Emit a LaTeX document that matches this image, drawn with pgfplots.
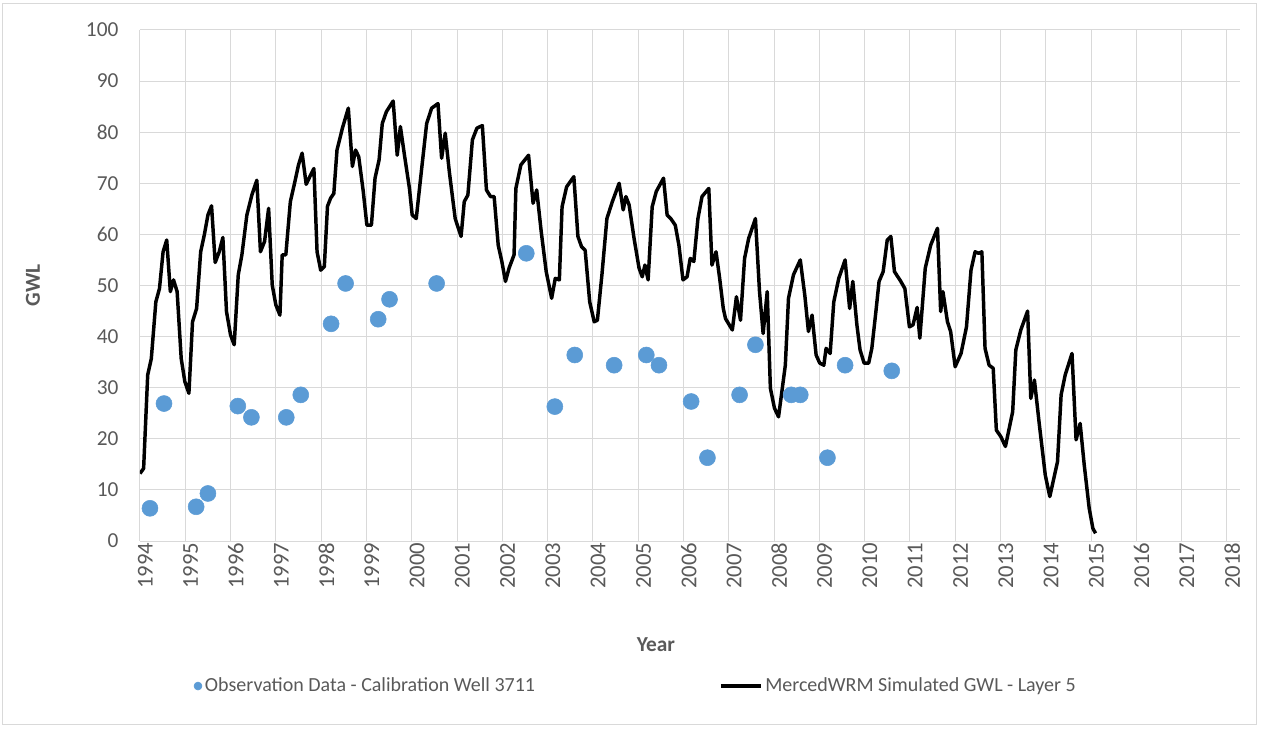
\documentclass[border=0pt]{standalone}
\usepackage{pgfplots}
\pgfplotsset{compat=1.18}
\usepackage{fontspec}
\setmainfont{Carlito}
\definecolor{obsblue}{HTML}{5B9BD5}
\definecolor{txtgray}{HTML}{595959}
\definecolor{gridgray}{HTML}{D9D9D9}

\begin{document}
\begin{tikzpicture}
\begin{axis}[
    at={(0,0)}, anchor=south west,
    scale only axis,
    width=825pt, height=383.25pt,
    xmin=1994, xmax=2018.29,
    ymin=0, ymax=100,
    xtick={1994,1995,...,2018},
    ytick={0,10,...,100},
    grid=major,
    major grid style={draw=gridgray, line width=0.75pt},
    axis line style={draw=none},
    tick style={draw=none},
    /pgf/number format/assume math mode=true,
    /pgf/number format/1000 sep={},
    ticklabel style={text=txtgray},
    xticklabel style={rotate=90, anchor=east, inner sep=1pt, yshift=-4pt, font=\fontsize{17}{19}\selectfont},
    yticklabel style={anchor=east, inner sep=1pt, xshift=-15pt, font=\fontsize{16}{18}\selectfont},
    xlabel={Year},
    ylabel={GWL},
    label style={text=txtgray, font=\fontsize{16}{18}\selectfont\bfseries},
    xlabel style={at={(axis description cs:0.469,-0.2035)}, anchor=center},
    ylabel style={at={(axis description cs:-0.0973,0.5)}, anchor=center},
    legend columns=2,
    legend style={at={(axis description cs:0.451,-0.2838)}, anchor=center,
        draw=none, fill=none, text=txtgray,
        font=\fontsize{15}{17}\selectfont,
        /tikz/every even column/.append style={column sep=136pt}},
]
\addplot[only marks, mark=*, mark size=6pt, color=obsblue, mark options={draw=obsblue, fill=obsblue},
    legend image code/.code={\fill[obsblue] (3pt,0pt) circle (3pt);}]
coordinates {
(1994.22,6.4) (1994.53,26.9) (1995.24,6.7) (1995.50,9.3)
(1996.16,26.4) (1996.46,24.2) (1997.23,24.2) (1997.55,28.6)
(1998.22,42.5) (1998.54,50.4) (1999.26,43.4) (1999.51,47.3)
(2000.55,50.4) (2002.53,56.3) (2003.16,26.3) (2003.60,36.4)
(2004.47,34.4) (2005.18,36.4) (2005.46,34.4) (2006.17,27.3)
(2006.53,16.3) (2007.24,28.6) (2007.59,38.4) (2008.38,28.6)
(2008.58,28.6) (2009.18,16.3) (2009.57,34.4) (2010.60,33.3)
};
\addlegendentry{Observation Data - Calibration Well 3711}

\addplot[black, line width=2.6pt, line join=round, no markers,
    legend image code/.code={\draw[black, line width=2.6pt] (0pt,0pt) -- (30pt,0pt);}]
coordinates {
(1994.00,13.2) (1994.08,14.2) (1994.17,32.5) (1994.25,35.7) (1994.35,46.8)
(1994.43,49.4) (1994.51,56.6) (1994.59,58.9) (1994.67,48.8) (1994.74,51.1)
(1994.82,48.8) (1994.91,35.7) (1994.99,31.2) (1995.08,28.9) (1995.16,42.9)
(1995.25,45.5) (1995.34,56.6) (1995.42,59.9) (1995.50,63.8) (1995.58,65.6)
(1995.66,54.5) (1995.75,56.6) (1995.83,59.4) (1995.91,44.9) (1996.00,40.3)
(1996.08,38.4) (1996.17,52.1) (1996.25,56.0) (1996.36,63.8) (1996.47,67.7)
(1996.58,70.6) (1996.66,56.6) (1996.75,58.6) (1996.84,65.1) (1996.92,50.1)
(1997.00,46.2) (1997.09,44.2) (1997.14,56.0) (1997.22,56.0) (1997.32,66.4)
(1997.42,70.3) (1997.50,73.6) (1997.58,75.9) (1997.67,69.8) (1997.75,71.3)
(1997.84,72.9) (1997.91,56.6) (1997.99,53.0) (1998.07,53.7) (1998.14,65.5)
(1998.21,67.1) (1998.28,68.0) (1998.35,76.5) (1998.47,80.8) (1998.60,84.7)
(1998.69,73.3) (1998.76,76.5) (1998.83,75.2) (1998.93,68.4) (1999.01,61.8)
(1999.11,61.8) (1999.19,71.0) (1999.28,74.6) (1999.35,81.7) (1999.44,84.0)
(1999.59,86.1) (1999.68,75.5) (1999.75,81.1) (1999.84,75.5) (1999.95,69.0)
(2000.01,63.8) (2000.10,63.1) (2000.22,72.9) (2000.33,81.7) (2000.44,84.7)
(2000.58,85.6) (2000.66,74.9) (2000.74,79.8) (2000.83,72.3) (2000.96,63.1)
(2001.09,59.6) (2001.16,66.4) (2001.24,67.7) (2001.34,78.5) (2001.44,80.8)
(2001.56,81.3) (2001.65,68.7) (2001.74,67.4) (2001.82,67.4) (2001.91,57.9)
(2001.99,54.7) (2002.07,50.8) (2002.15,53.4) (2002.26,56.0) (2002.30,69.0)
(2002.41,73.6) (2002.58,75.5) (2002.68,66.1) (2002.76,68.7) (2002.86,60.5)
(2002.97,52.7) (2003.09,47.5) (2003.17,51.4) (2003.26,51.1) (2003.32,65.4)
(2003.42,69.3) (2003.58,71.3) (2003.67,59.6) (2003.75,57.6) (2003.83,56.9)
(2003.93,46.8) (2004.03,42.9) (2004.10,43.2) (2004.20,52.1) (2004.31,63.1)
(2004.43,66.4) (2004.58,70.0) (2004.67,64.8) (2004.73,67.4) (2004.80,65.8)
(2004.91,59.2) (2005.02,53.4) (2005.09,51.7) (2005.15,54.0) (2005.22,51.1)
(2005.31,65.4) (2005.40,68.4) (2005.56,71.0) (2005.64,63.8) (2005.72,63.1)
(2005.82,61.8) (2005.90,57.9) (2005.99,51.1) (2006.08,51.7) (2006.15,55.3)
(2006.23,54.7) (2006.32,63.1) (2006.41,67.4) (2006.56,69.0) (2006.63,54.0)
(2006.72,56.6) (2006.80,51.4) (2006.88,45.5) (2006.93,43.5) (2007.08,41.3)
(2007.17,47.8) (2007.26,43.2) (2007.35,55.3) (2007.44,59.2) (2007.59,63.1)
(2007.68,48.8) (2007.76,40.6) (2007.85,48.8) (2007.92,29.9) (2008.01,26.0)
(2008.10,24.3) (2008.25,34.4) (2008.32,47.5) (2008.43,52.1) (2008.58,55.0)
(2008.68,48.1) (2008.76,41.0) (2008.84,44.2) (2008.93,36.4) (2009.01,34.8)
(2009.10,34.4) (2009.15,37.7) (2009.24,36.7) (2009.32,46.8) (2009.43,51.4)
(2009.57,55.0) (2009.67,45.5) (2009.74,50.8) (2009.83,42.3) (2009.90,37.4)
(2009.99,34.8) (2010.09,34.8) (2010.16,37.7) (2010.25,44.9) (2010.32,50.8)
(2010.41,52.7) (2010.50,58.9) (2010.58,59.6) (2010.66,52.7) (2010.78,51.1)
(2010.89,49.4) (2010.99,41.9) (2011.07,42.3) (2011.16,45.7) (2011.22,39.7)
(2011.34,53.4) (2011.46,57.9) (2011.61,61.2) (2011.68,44.9) (2011.73,48.8)
(2011.83,42.9) (2011.90,41.0) (2012.00,34.1) (2012.13,36.7) (2012.25,41.9)
(2012.35,53.0) (2012.44,56.6) (2012.52,56.3) (2012.59,56.6) (2012.66,37.7)
(2012.75,34.4) (2012.84,33.8) (2012.91,21.7) (2013.01,20.4) (2013.11,18.5)
(2013.27,25.3) (2013.34,37.4) (2013.45,41.3) (2013.60,45.0) (2013.67,27.9)
(2013.75,31.5) (2013.86,22.7) (2013.99,12.9) (2014.09,8.7) (2014.26,15.5)
(2014.34,28.6) (2014.43,32.5) (2014.58,36.7) (2014.67,19.8) (2014.76,23.0)
(2014.85,14.9) (2014.96,6.4) (2015.04,2.5) (2015.10,1.5)
};
\addlegendentry{MercedWRM Simulated GWL - Layer 5}
\end{axis}
\pgfresetboundingbox
\draw[gridgray, line width=0.75pt] (-102.75pt,-137.25pt) rectangle (837pt,402.75pt);
\path (-105pt,-140.25pt) rectangle (842.25pt,405.75pt);
\end{tikzpicture}
\end{document}
